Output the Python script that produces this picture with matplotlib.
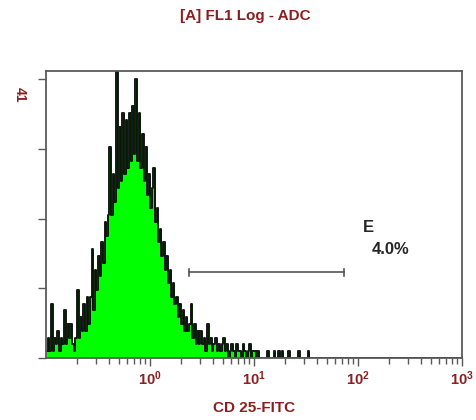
import matplotlib.pyplot as plt
import numpy as np

# channel counts (256 log channels, 0.1 .. 1000)
counts = [
    1, 3, 1, 8, 1, 3, 2, 4, 1, 3,
    2, 7, 2, 5, 3, 5, 2, 1, 3, 10,
    3, 6, 4, 8, 4, 9, 5, 9, 16, 7,
    13, 10, 15, 12, 17, 14, 20, 18, 21, 31,
    21, 27, 23, 44, 25, 34, 26, 36, 27, 35,
    28, 36, 29, 37, 30, 41, 29, 36, 28, 33,
    26, 31, 24, 27, 22, 25, 28, 20, 22, 17,
    19, 15, 17, 13, 15, 11, 13, 9, 11, 8,
    9, 6, 8, 5, 7, 4, 6, 4, 5, 8,
    3, 5, 2, 4, 2, 4, 2, 3, 1, 5,
    2, 3, 1, 2, 3, 1, 2, 1, 2, 3,
    1, 2, 0, 1, 2, 1, 0, 2, 1, 1,
    0, 2, 1, 0, 1, 2, 0, 1, 1, 0,
    1, 0, 0, 0, 0, 0, 1, 0, 0, 0,
    1, 0, 0, 1, 0, 1, 0, 0, 0, 1,
    0, 0, 0, 0, 0, 1, 0, 0, 0, 0, 0, 1,
]
n_channels = 256
counts = counts + [0] * (n_channels - len(counts))

y_max_label = 41
gate_name = "E"
gate_pct = "4.0%"
gate_range = (2.37, 73.3)
gate_level = 12.6

title = "[A] FL1 Log - ADC"
xlabel = "CD 25-FITC"
decades = [1, 10, 100, 1000]
decade_labels = ["0", "1", "2", "3"]

red = "#8b1f1f"
axis_gray = "#5a5a5a"

plt.rcParams['font.family'] = ['Liberation Sans', 'DejaVu Sans']
plt.rcParams['mathtext.fontset'] = 'custom'
plt.rcParams['mathtext.bf'] = 'Liberation Sans:bold'
plt.rcParams['mathtext.rm'] = 'Liberation Sans:bold'

edges = 10 ** (-1 + 4 * np.arange(n_channels + 1) / n_channels)
vals = np.append(counts, counts[-1])

fig = plt.figure(figsize=(4.76, 4.20), dpi=100)
ax = fig.add_axes([46 / 476, 1 - 358 / 420, 416 / 476, 287 / 420])

ax.fill_between(edges, vals, step='post', color='#00ff00', linewidth=0)
ax.step(edges, vals, where='post', color='black', linewidth=1.4, alpha=0.9)

ax.set_xscale('log')
ax.set_xlim(0.1, 1000)
ax.set_ylim(0, 42.2)

# gate marker
ax.plot(gate_range, [gate_level, gate_level], color='#555555', linewidth=1.2)
for gx in gate_range:
    ax.plot([gx, gx], [gate_level - 0.5, gate_level + 0.5], color='#555555', linewidth=1.2)
fig.text(363 / 476, 1 - 227 / 420, gate_name, fontsize=12, fontweight='bold',
         color='#262626', va='center', ha='left')
fig.text(372 / 476, 1 - 250 / 420, gate_pct, fontsize=12, fontweight='bold',
         color='#262626', va='center', ha='left')

ax.set_yticks([0, 10.25, 20.5, 30.75, 41])
ax.set_yticklabels([])
ax.set_xticks(decades)
ax.set_xticklabels(["$\\mathbf{10^{%s}}$" % d for d in decade_labels],
                   color=red, fontsize=10.5)
ax.tick_params(axis='both', which='both', direction='out', color=axis_gray, width=1)
ax.tick_params(axis='y', length=6)
ax.tick_params(axis='x', which='major', length=6, pad=2)
ax.tick_params(axis='x', which='minor', length=4)
for s in ax.spines.values():
    s.set_color(axis_gray)
    s.set_linewidth(1.3)

fig.text(20 / 476, 1 - 95 / 420, str(y_max_label), rotation=-90, fontsize=10,
         fontweight='bold', color=red, ha='center', va='center')
fig.text(245 / 476, 1 - 16 / 420, title, fontsize=11, fontweight='bold',
         color=red, ha='center', va='center')
fig.text(254 / 476, 1 - 408 / 420, xlabel, fontsize=11, fontweight='bold',
         color=red, ha='center', va='center')

fig.savefig('out.png', dpi=100)
